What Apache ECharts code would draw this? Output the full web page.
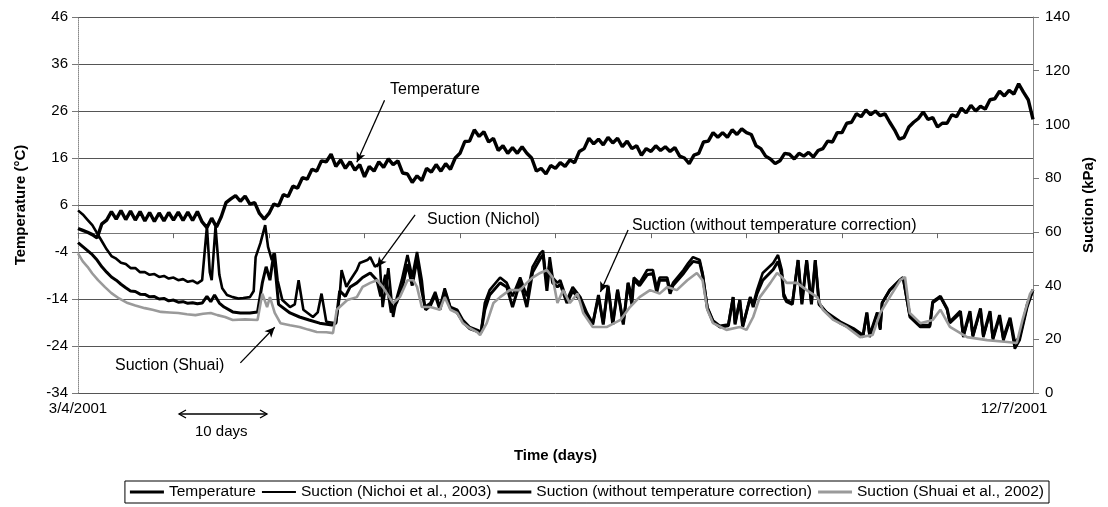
<!DOCTYPE html>
<html>
<head>
<meta charset="utf-8">
<script src="https://cdn.jsdelivr.net/npm/echarts@6/dist/echarts.min.js"></script>
<style>
html,body{margin:0;padding:0;background:#fff;}
#chart{width:1108px;height:507px;}
</style>
</head>
<body>
<div id="chart"></div>
<script>
// ---- DATA ----
// x axis: days after 3/4/2001 (0..100 = 3/4/2001 .. 12/7/2001)
const xTickLabels = { 0: '3/4/2001', 100: '12/7/2001' };
const tempStep = 0.5; // days between temperature readings
// Temperature (°C), one reading every half day from day 0
const temperature = [
1.0,0.6,0.2,-0.3,-1.0,2.0,2.8,4.6,3.0,4.8,2.9,4.7,2.8,4.6,2.6,4.4,2.5,4.3,2.6,4.4,
2.8,4.5,2.7,4.5,2.7,4.6,2.4,1.2,3.2,1.3,3.5,6.5,7.3,8.0,6.8,7.9,6.2,6.5,4.2,3.0,
4.2,6.2,5.8,8.2,7.8,10.0,9.6,11.8,11.5,13.6,13.2,15.4,15.2,16.8,14.2,15.6,13.8,15.2,13.4,14.6,
12.0,14.2,13.2,15.2,14.0,15.8,14.6,15.4,12.8,12.6,10.8,12.2,11.2,13.8,13.0,14.6,13.2,14.8,13.6,16.0,
17.0,19.5,19.6,22.0,20.6,21.6,19.4,20.2,17.6,18.6,17.0,18.2,17.0,18.4,17.0,16.0,13.2,13.8,12.6,14.4,
13.8,15.0,14.2,15.6,15.0,17.4,18.0,20.2,19.0,20.0,18.8,20.4,19.2,20.2,18.4,19.6,18.0,18.6,16.6,18.0,
17.4,18.6,17.6,18.4,17.4,18.2,16.4,16.0,14.8,16.6,17.0,19.4,19.6,21.4,20.4,21.4,20.4,22.0,21.0,22.2,
21.4,21.0,18.6,18.0,16.4,15.8,14.8,15.4,17.0,16.8,15.8,17.0,16.4,17.2,16.2,17.6,18.0,19.6,19.4,21.4,
21.4,23.4,23.6,25.4,24.8,26.2,25.2,26.0,25.0,25.4,23.6,22.0,20.0,20.4,22.6,23.6,24.4,25.8,24.2,24.6,
22.6,23.4,23.4,25.2,24.8,26.6,25.6,27.2,26.0,27.0,26.4,28.4,28.6,30.2,29.2,30.4,29.6,31.8,30.0,28.4,
24.2
];
// Suction (kPa) [day, value]
const suctionNichol = [
[0,68],[0.5,66.5],[1,64.5],[1.5,62.5],[2,59.5],[2.5,56.5],[3,53.5],[3.5,51],[4,50],[4.5,48.5],[5,48],[5.5,46.5],[6,46.5],[6.5,45],[7,45],[7.5,44],[8,44.3],[8.5,43.2],[9,43.6],[9.5,42.6],[10,43],[10.5,42],[11,42.4],[11.5,41.4],[12,41.8],[12.5,40.8],[13,42],[13.5,62],[13.8,45],[14,42],[14.4,62],[14.8,44],[15.1,39],[15.6,36.5],[16.2,35.7],[16.8,35.2],[17.3,35.4],[18,35.7],[18.4,38],[18.6,50.6],[19.1,55.8],[19.6,62.5],[19.9,54.4],[20.3,49.5],[20.6,52],[20.9,42],[21.4,34.6],[22.2,32],[22.7,33],[23.1,42],[23.6,31],[24.6,28.3],[25.1,30],[25.5,37],[26.0,26.5],[27.0,26],[27.4,36],[27.6,45.8],[28.1,39.5],[28.5,42],[29.2,45.8],[29.5,48.4],[30.3,49.5],[30.6,50.6],[31.1,47],[31.6,48.4],[31.9,32],[32.5,46.5],[33.0,28.3],[33.4,35.7],[33.9,42],[34.5,51.4],[35.0,43.2],[35.5,52.5],[36.0,42],[36.3,32],[36.9,33.5],[37.4,37.6],[37.9,32],[38.4,39],[39.0,32],[39.7,31],[40.3,27.2],[41.0,24.6],[41.8,23.5],[42.2,22.8],[42.6,33.5],[43.1,38.3],[44.2,43],[44.9,41],[45.5,36],[46.3,43],[47.0,36],[47.6,47],[48.4,52],[48.7,53],[49.1,40],[49.4,50.6],[49.7,43],[50.2,41],[50.5,42],[51.2,34.6],[51.8,39.5],[52.6,35.7],[53.3,29.8],[53.9,26],[54.5,35.7],[55.0,26],[55.5,39.5],[56.0,26],[56.5,38.3],[57.1,26],[57.6,41],[58.0,36],[58.2,43],[58.8,41],[59.6,45.8],[60.2,45.8],[60.6,39],[60.9,43],[61.7,43],[62.0,38.5],[62.3,41],[63.4,45.8],[63.9,48.4],[64.4,50.6],[65.1,49.5],[65.4,44.7],[65.9,32],[66.5,27],[67.2,25],[68.1,25.5],[68.6,35.7],[68.8,26],[69.3,34.6],[69.6,24.8],[70.4,35.7],[70.7,33],[71.1,38.3],[71.7,44.7],[72.8,48.4],[73.3,51.4],[73.7,45.8],[73.9,37],[74.2,34.6],[74.8,33.5],[75.4,49.5],[75.8,33.5],[76.3,49.5],[76.8,33.5],[77.2,49.5],[77.6,33.5],[78.4,29.8],[79.8,26],[81.2,23.5],[82.2,20.8],[82.6,29.8],[82.9,20.8],[83.7,29.8],[84.0,23.5],[84.2,33.5],[85.0,38.3],[86.1,42],[86.4,42.8],[87.1,28.3],[88.2,24.6],[89.2,24.6],[89.5,33.5],[90.3,35.7],[91.0,31],[91.3,26],[92.4,29.8],[92.7,20.8],[93.4,29.8],[93.7,20.8],[94.5,31],[94.8,20.8],[95.5,29.8],[95.8,19.7],[96.5,28.3],[96.9,19.5],[97.6,27.2],[98.1,16.5],[98.6,19.7],[99.4,32],[100,38.3]
];
const suctionUncorrected = [
[0,56],[0.5,54.5],[1,53],[1.5,51.5],[2,49.5],[2.5,47],[3,45],[3.5,43.2],[4,42],[4.5,40.5],[5,39.2],[5.5,38],[6,37.8],[6.5,36.8],[7,36.7],[7.5,35.8],[8,35.9],[8.5,35],[9,35.2],[9.5,34.3],[10,34.6],[10.5,33.8],[11,34],[11.5,33.4],[12,33.6],[12.5,33.2],[13,33.5],[13.5,36],[13.9,34],[14.3,36.5],[14.8,33.5],[15.3,32],[16.2,30.2],[17,29.8],[18,29.8],[18.8,30.2],[19.3,41],[19.7,47],[20.1,42],[20.5,52],[21.0,33],[22.2,29.8],[23.2,28.3],[24.2,27.2],[25.3,26],[26.6,25.3],[27.0,26],[27.4,38],[28.0,36],[28.5,39.5],[29.2,41],[29.8,43],[30.6,44.7],[31.3,42],[31.7,36],[32.2,44],[32.8,30],[33.4,34],[34.0,40],[34.5,48],[35.0,40],[35.5,50],[36.0,38],[36.4,31],[36.9,32.5],[37.4,36.5],[37.9,31],[38.4,38],[39.0,31.5],[39.7,30],[40.3,26.5],[41.0,24],[41.8,23],[42.2,22.5],[42.6,31],[43.1,36.5],[44.2,41],[44.9,39.5],[45.5,32],[46.3,41.5],[47.0,32],[47.6,45],[48.4,50],[48.7,51.5],[49.1,38],[49.4,48.5],[49.7,41],[50.2,39.5],[50.5,40.5],[51.2,33.5],[51.8,38],[52.6,34.5],[53.3,29],[53.9,25.5],[54.5,36.5],[55.0,25.5],[55.5,40],[56.0,25.5],[56.5,38.5],[57.1,25.5],[57.6,41],[58.0,33],[58.2,42],[58.8,40],[59.6,44],[60.2,44.5],[60.6,37.5],[60.9,42],[61.7,42],[62.0,37],[62.3,40],[63.4,44.5],[63.9,47],[64.4,49],[65.1,48.5],[65.4,44],[65.9,31.5],[66.5,26.5],[67.2,24.6],[68.1,25],[68.6,35.7],[68.8,25.5],[69.3,34.6],[69.6,24.6],[70.4,35.7],[70.7,32],[71.1,37],[71.7,42],[72.8,46],[73.3,49],[73.7,44],[73.9,36],[74.2,34],[74.8,33],[75.4,49.5],[75.8,33],[76.3,49.5],[76.8,33],[77.2,49.5],[77.6,33],[78.4,30],[79.8,26.5],[81.2,24],[82.2,21.5],[82.6,30],[82.9,21.5],[83.7,30],[84.0,24],[84.2,33.5],[85.0,38.3],[86.1,42.2],[86.4,43],[87.1,29],[88.2,25.2],[89.2,25.2],[89.5,34],[90.3,36],[91.0,31.5],[91.3,26.5],[92.4,30.5],[92.7,21.5],[93.4,30.5],[93.7,21.5],[94.5,31.5],[94.8,21.5],[95.5,30.5],[95.8,20.5],[96.5,29],[96.9,20.5],[97.6,28],[98.1,18.5],[98.6,21],[99.4,33],[100,38.5]
];
const suctionShuai = [
[0,52],[0.5,49],[1,47],[1.5,44.5],[2.1,42],[2.8,39.5],[3.5,37.2],[4.3,35.2],[5.2,33.5],[6,32.6],[7,31.6],[7.8,31],[8.7,30.2],[9.6,30],[10.5,29.8],[11.4,29.3],[12.3,29],[13.1,29.5],[13.9,29.8],[14.6,29],[15.4,28.3],[16.2,27.2],[17.5,27.4],[18.8,27.2],[19.3,37],[19.8,32],[20.1,35.7],[20.6,29.8],[21.2,26],[22.2,25.2],[23.2,24.6],[24.1,23.6],[25.0,22.7],[26.0,22.6],[26.7,22.3],[27.1,31],[27.4,32],[28.2,34.6],[29.2,35.7],[29.8,39.5],[30.6,41],[31.3,42],[31.9,39.5],[33.0,33.5],[33.7,35.7],[34.5,42],[35.1,42],[35.5,39.5],[36.0,32],[36.9,32],[37.9,31],[38.4,35.7],[39.0,31],[39.7,29.8],[40.3,26],[41.0,24.2],[41.8,22.7],[42.1,21.6],[42.8,26],[43.5,33.5],[44.2,35.7],[45.2,38.3],[46.3,38.3],[47.0,41],[47.6,43],[48.4,44.7],[49.1,45.8],[49.7,43],[50.2,33.5],[50.8,38.3],[51.5,33.5],[52.3,37],[52.9,29.8],[53.9,24.6],[55.4,24.6],[56.8,27.2],[57.8,32],[58.8,35.7],[59.9,38.3],[60.9,37],[61.7,39.5],[62.7,38.3],[63.8,42],[64.8,44.7],[65.4,42],[65.9,31],[66.5,26],[67.9,23.5],[69.3,24.6],[70.0,23.5],[70.7,28.3],[71.4,35.7],[72.5,41],[73.2,44.7],[73.7,43.2],[74.2,41],[75.3,41],[76.3,38.3],[77.4,35.7],[78.0,31],[79.1,27.2],[80.5,24.6],[81.9,20.8],[83.2,21.6],[84.0,29.8],[85.0,35.7],[86.1,42],[86.6,43.2],[87.1,29.8],[88.2,26],[89.5,27.2],[90.3,31],[91.3,24.6],[93.1,20.8],[95.2,19.7],[97.3,19],[98.3,18.6],[98.9,27.2],[99.7,37],[100,38.5]
];
const seriesNames = ['Temperature','Suction (Nichoi et al., 2003)','Suction (without temperature correction)','Suction (Shuai et al., 2002)'];
// annotation arrows, in [day, °C] units: [from, to]
const arrows = [
  [[32.1,28.3],[29.2,15.1]],
  [[35.3,3.9],[31.3,-7.2]],
  [[57.6,0.7],[54.7,-12.5]],
  [[17.0,-27.6],[20.6,-20.0]]
];

// ---- CHART ----
const FONT = 'Arial, "Liberation Sans", Helvetica, sans-serif';
const chart = echarts.init(document.getElementById('chart'), null, {renderer:'canvas'});
const tempData = temperature.map((v,i)=>[i*tempStep, v]);

const option = {
  animation: false,
  backgroundColor: '#fff',
  textStyle: {fontFamily: FONT, color:'#000'},
  grid: {left: 78, right: 75, top: 17, bottom: 114, containLabel: false},
  legend: {
    data: seriesNames.map((n, i) => ({name: n, icon: i === 1 ? 'path://M0,0.5 L34,0.5 L34,2.5 L0,2.5 Z' : 'rect'})),
    right: 59, top: 481,
    padding: [3, 5, 3, 5],
    borderColor: '#000', borderWidth: 1,
    itemWidth: 34, itemHeight: 3, itemGap: 6,
    textStyle: {fontFamily: FONT, fontSize: 15.5, color:'#000'}
  },
  xAxis: {
    type: 'value', min: 0, max: 100, interval: 10,
    name: 'Time (days)', nameLocation: 'middle', nameGap: 55,
    nameTextStyle: {fontFamily: FONT, fontSize: 15, fontWeight: 'bold', color:'#000'},
    axisLine: {show: true, lineStyle: {color: '#777', width: 1}},
    axisTick: {show: true, inside: false, length: 5, lineStyle: {color:'#666'}},
    splitLine: {show: false},
    axisLabel: {
      show: true, showMinLabel: true, showMaxLabel: true, margin: 8,
      fontFamily: FONT, fontSize: 15, color: '#000',
      formatter: v => v === 100 ? '{r|' + xTickLabels[100] + '}' : (xTickLabels[v] || ''),
      rich: {r: {fontFamily: FONT, fontSize: 15, color:'#000', padding: [0, 38, 0, 0]}}
    }
  },
  yAxis: [
    {
      type: 'value', min: -34, max: 46, interval: 10, position: 'left',
      name: 'Temperature (°C)', nameLocation: 'middle', nameGap: 50, nameRotate: 90,
      nameTextStyle: {fontFamily: FONT, fontSize: 15, fontWeight: 'bold', color:'#000'},
      axisLine: {show: true, lineStyle: {color: '#888', width: 1, type: 'dotted'}},
      axisTick: {show: true, inside: false, length: 6, lineStyle: {color:'#777'}},
      axisLabel: {fontFamily: FONT, fontSize: 15, color:'#000', margin: 10},
      splitLine: {show: true, lineStyle: {color: '#555', width: 1}}
    },
    {
      type: 'value', min: 0, max: 140, interval: 20, position: 'right',
      name: 'Suction (kPa)', nameLocation: 'middle', nameGap: 48, nameRotate: 90,
      nameTextStyle: {fontFamily: FONT, fontSize: 15, fontWeight: 'bold', color:'#000'},
      axisLine: {show: true, lineStyle: {color: '#888', width: 1}},
      axisTick: {show: true, inside: false, length: 6, lineStyle: {color:'#777'}},
      axisLabel: {fontFamily: FONT, fontSize: 15, color:'#000', margin: 12},
      splitLine: {show: false}
    }
  ],
  series: [
    {
      name: seriesNames[0], type: 'line', yAxisIndex: 0, data: tempData,
      symbol: 'none', lineStyle: {color:'#000', width: 3.4}, itemStyle:{color:'#000'},
      z: 3,
      markLine: {
        silent: true, animation: false,
        symbol: ['none','arrow'], symbolSize: [7, 10],
        label: {show: false},
        lineStyle: {color:'#000', width: 1.3, type: 'solid'},
        data: arrows.map(a => [{coord: a[0]}, {coord: a[1]}])
      }
    },
    {
      name: seriesNames[1], type: 'line', yAxisIndex: 1, data: suctionNichol,
      symbol: 'none', lineStyle: {color:'#000', width: 2.6}, itemStyle:{color:'#000'}, z: 3
    },
    {
      name: seriesNames[2], type: 'line', yAxisIndex: 1, data: suctionUncorrected,
      symbol: 'none', lineStyle: {color:'#000', width: 3}, itemStyle:{color:'#000'}, z: 3
    },
    {
      name: seriesNames[3], type: 'line', yAxisIndex: 1, data: suctionShuai,
      symbol: 'none', lineStyle: {color:'#9a9a9a', width: 2.6}, itemStyle:{color:'#9a9a9a'}, z: 4
    }
  ],
  graphic: [
    {type:'text', left: 390, top: 82, style:{text:'Temperature', font:'16px ' + FONT, fill:'#000'}},
    {type:'text', left: 427, top: 212, style:{text:'Suction (Nichol)', font:'16px ' + FONT, fill:'#000'}},
    {type:'text', left: 632, top: 218, style:{text:'Suction (without temperature correction)', font:'16px ' + FONT, fill:'#000'}},
    {type:'text', left: 115, top: 358, style:{text:'Suction (Shuai)', font:'16px ' + FONT, fill:'#000'}},
    // "10 days" double arrow below the axis
    {type:'line', shape:{x1:179, y1:414, x2:267, y2:414}, style:{stroke:'#000', lineWidth:1.3}},
    {type:'polyline', shape:{points:[[186,410],[179,414],[186,418]]}, style:{stroke:'#000', lineWidth:1.3, fill:null}},
    {type:'polyline', shape:{points:[[260,410],[267,414],[260,418]]}, style:{stroke:'#000', lineWidth:1.3, fill:null}},
    {type:'text', left: 195, top: 424, style:{text:'10 days', font:'15px ' + FONT, fill:'#000'}}
  ]
};
chart.setOption(option);
</script>
</body>
</html>
